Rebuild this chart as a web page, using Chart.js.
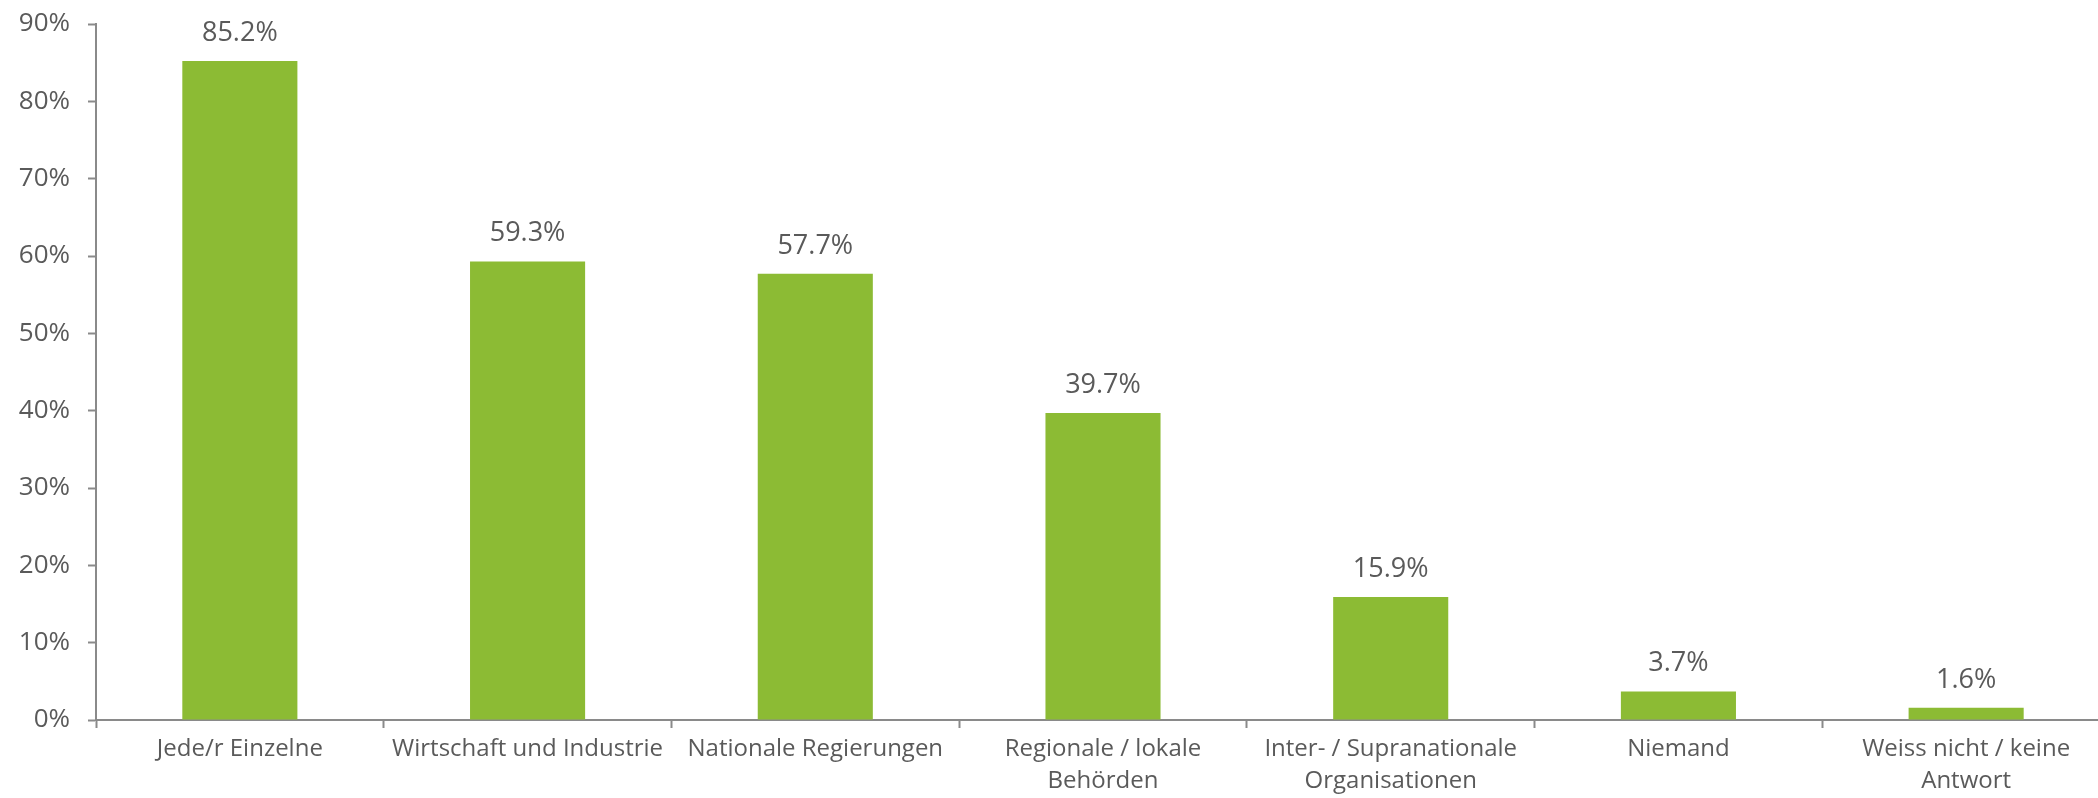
<!DOCTYPE html>
<html>
<head>
<meta charset="utf-8">
<script src="https://cdn.jsdelivr.net/npm/chart.js@4"></script>
<style>
  html, body { margin: 0; padding: 0; background: #fff; overflow: hidden; }
  #wrap { width: 2112px; height: 798px; position: relative; }
</style>
</head>
<body>
<div id="wrap"><canvas id="bars"></canvas></div>
<script>
const categories = [
    'Jede/r Einzelne',
    'Wirtschaft und Industrie',
    'Nationale Regierungen',
    ['Regionale / lokale', 'Behörden'],
    ['Inter- / Supranationale', 'Organisationen'],
    'Niemand',
    ['Weiss nicht / keine', 'Antwort']
];
const shares = [85.2, 59.3, 57.7, 39.7, 15.9, 3.7, 1.6];
const yTicks = [0, 10, 20, 30, 40, 50, 60, 70, 80, 90];

const GREEN = '#8cbb34';
const AXIS = '#8a8a8a';
const TEXT = '#5a5a5a';
const FONT = "'Open Sans', sans-serif";

// value labels above each bar
const valueLabels = {
    id: 'valueLabels',
    afterDatasetsDraw(chart) {
        const ctx = chart.ctx;
        const meta = chart.getDatasetMeta(0);
        ctx.save();
        ctx.font = '27px ' + FONT;
        ctx.fillStyle = TEXT;
        ctx.textAlign = 'center';
        ctx.textBaseline = 'alphabetic';
        meta.data.forEach((bar, i) => {
            ctx.fillText(shares[i].toFixed(1) + '%', bar.x, bar.y - 20);
        });
        ctx.restore();
    }
};

new Chart(document.getElementById('bars').getContext('2d'), {
    type: 'bar',
    data: {
        labels: categories,
        datasets: [{
            data: shares,
            backgroundColor: GREEN,
            borderWidth: 0,
            categoryPercentage: 1,
            barPercentage: 0.4
        }]
    },
    options: {
        responsive: true,
        maintainAspectRatio: false,
        animation: false,
        layout: { padding: { top: 24, right: 2, left: 0, bottom: 0 } },
        plugins: {
            legend: { display: false },
            tooltip: { enabled: false }
        },
        scales: {
            x: {
                afterFit: s => { s.height = 78; },
                grid: {
                    offset: true,
                    drawOnChartArea: false,
                    tickLength: 8,
                    tickColor: AXIS,
                    tickWidth: 2
                },
                border: { color: AXIS, width: 2 },
                ticks: {
                    color: TEXT,
                    font: { family: FONT, size: 24, lineHeight: 1.3 },
                    padding: 6,
                    maxRotation: 0,
                    autoSkip: false
                }
            },
            y: {
                min: 0,
                max: 90,
                afterFit: s => { s.width = 96; s.paddingTop = 0; s.paddingBottom = 0; },
                afterBuildTicks: s => { s.ticks = yTicks.map(v => ({ value: v })); },
                grid: {
                    drawOnChartArea: false,
                    tickLength: 8,
                    tickColor: AXIS,
                    tickWidth: 2
                },
                border: { color: AXIS, width: 2 },
                ticks: {
                    color: TEXT,
                    font: { family: FONT, size: 26 },
                    padding: 18,
                    callback: v => v + '%'
                }
            }
        }
    },
    plugins: [valueLabels]
});
</script>
</body>
</html>
